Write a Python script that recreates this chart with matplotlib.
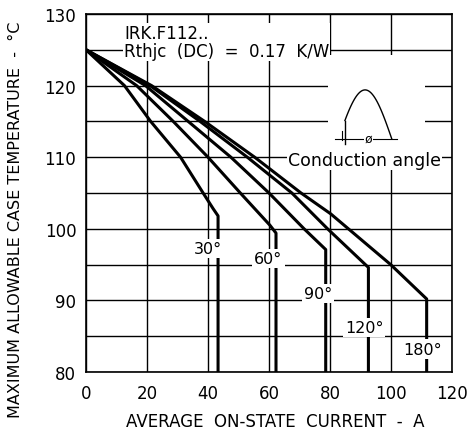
import numpy as np
import matplotlib
matplotlib.use("Agg")
import matplotlib.pyplot as plt
from matplotlib.patches import Rectangle

# curves (current A, case temperature C)
x30 = [0, 12.6, 21.2, 31.0, 38.4, 41.7, 43.3, 43.3]
y30 = [125, 120, 115, 110, 105, 102.8, 101.8, 80]
x60 = [0, 16.6, 28.6, 40.0, 50.6, 60.3, 62.3, 62.3]
y60 = [125, 120, 115, 110, 105, 100.5, 99.4, 80]
x90 = [0, 19.5, 33.5, 47.5, 60.0, 71.5, 78.6, 78.6]
y90 = [125, 120, 115, 110, 105, 100, 97.1, 80]
x120 = [0, 21.0, 37.4, 52.9, 67.5, 79.2, 92.6, 92.6]
y120 = [125, 120, 115, 110, 105, 100, 94.6, 80]
x180 = [0, 21.5, 38.9, 55.3, 70.5, 80.2, 99.9, 111.7, 111.7]
y180 = [125, 120, 115, 110, 105, 102.1, 95, 90.2, 80]

curves = [(x30, y30, "30°", (39.8, 97.3)),
          (x60, y60, "60°", (59.8, 95.8)),
          (x90, y90, "90°", (76.0, 91.0)),
          (x120, y120, "120°", (91.2, 86.2)),
          (x180, y180, "180°", (110.4, 83.2))]

xticks = [0, 20, 40, 60, 80, 100, 120]
yticks = [80, 90, 100, 110, 120, 130]

plt.rcParams['font.family'] = 'DejaVu Sans'
fig = plt.figure(figsize=(4.71, 4.31), dpi=100)
ax = fig.add_axes([0.1826, 0.1346, 0.777, 0.8306])

ax.set_xlim(0, 120)
ax.set_ylim(80, 130)
ax.set_xticks(xticks)
ax.set_yticks(yticks)
ax.set_yticks(np.arange(85, 130, 10), minor=True)
ax.tick_params(which='both', length=0, labelsize=12)
ax.tick_params(axis='x', pad=9)
ax.tick_params(axis='y', pad=7)
ax.set_axisbelow(True)
ax.grid(True, which='both', color='black', linewidth=1.0)
for s in ax.spines.values():
    s.set_linewidth(1.2)

# white patch behind the waveform sketch (grid is blanked there)
ax.add_patch(Rectangle((79.5, 108.3), 31.5, 16.0, facecolor='white',
                       edgecolor='none', zorder=1))

for xs, ys, lab, pos in curves:
    ax.plot(xs, ys, color='black', linewidth=2.2, zorder=2,
            solid_joinstyle='round')
    ax.text(pos[0], pos[1], lab, fontsize=11.5, ha='center', va='center',
            zorder=4, bbox=dict(facecolor='white', edgecolor='none', pad=1.5))

ax.text(12.5, 126.1, "IRK.F112..\nRthjc  (DC)  =  0.17  K/W", fontsize=12,
        ha='left', va='center', linespacing=1.0, zorder=4,
        bbox=dict(facecolor='white', edgecolor='none', pad=0.5))

# conduction angle sketch
th = np.linspace(0.38, np.pi, 40)
ax.plot(84.9 + (th - 0.38) * 5.55, 112.6 + 6.8 * np.sin(th), color='black',
        linewidth=1.0, zorder=3)
ax.plot([84.9, 84.9], [115.1, 111.9], color='black', linewidth=1.0, zorder=3)
ax.plot([81.5, 102], [112.6, 112.6], color='black', linewidth=0.8, zorder=3)
ax.plot([83.8, 83.8], [112.4, 113.7], color='black', linewidth=0.8, zorder=3)
ax.text(92.5, 112.6, "ø", fontsize=9, ha='center', va='center', zorder=4,
        bbox=dict(facecolor='white', edgecolor='none', pad=0.5))
ax.text(66.2, 109.6, "Conduction angle", fontsize=12.5, ha='left',
        va='center', zorder=4,
        bbox=dict(facecolor='white', edgecolor='none', pad=0.5))

fig.text(0.585, 0.021, "AVERAGE  ON-STATE  CURRENT  -  A", fontsize=12,
         ha='center', va='center')
fig.text(0.032, 0.49, "MAXIMUM ALLOWABLE CASE TEMPERATURE  -  °C",
         fontsize=11.5, ha='center', va='center', rotation=90)

fig.savefig("out.png", dpi=100)
